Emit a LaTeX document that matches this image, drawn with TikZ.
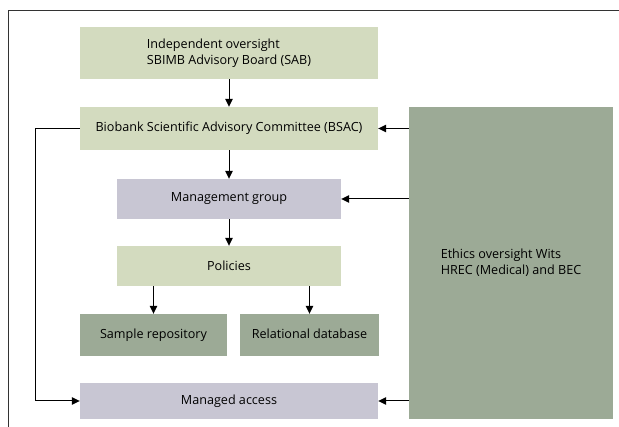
\documentclass[tikz,border=0pt]{standalone}
\usepackage{fontspec}
\setmainfont{Open Sans}
\usetikzlibrary{arrows.meta}
\definecolor{lgreen}{RGB}{211,219,191}
\definecolor{lav}{RGB}{200,198,211}
\definecolor{sage}{RGB}{156,170,150}
\tikzset{
  box/.style={fill=#1, draw=none, inner sep=0pt, align=center, font=\fontsize{12.6}{16.5}\selectfont},
  arr/.style={draw=black, line width=1pt, -{Triangle[length=8pt,width=7.5pt]}},
  frame/.style={draw=black!80, line width=0.8pt}
}
\begin{document}
\begin{tikzpicture}[x=1pt,y=-1pt]
\useasboundingbox (0,0) rectangle (619,427);
\coordinate (ftr) at (619,10);
\coordinate (ftl) at (8,10);
\coordinate (fbl) at (8,427);
\draw[frame] (ftr) -- (ftl) -- (fbl);
\node[box=lgreen, minimum width=298, minimum height=52] (sab) at (229,53)
  {\begin{tabular}{@{}l@{}}Independent oversight\\SBIMB Advisory Board (SAB)\end{tabular}};
\node[box=lgreen, minimum width=298, minimum height=43] (bsac) at (229,128.5)
  {Biobank Scientific Advisory Committee (BSAC)};
\node[box=sage, minimum width=204, minimum height=312] (eth) at (511,263)
  {\begin{tabular}{@{}l@{}}Ethics oversight Wits\\HREC (Medical) and BEC\end{tabular}};
\node[box=lav, minimum width=224, minimum height=40] (mg) at (229,199)
  {Management group};
\node[box=lgreen, minimum width=224, minimum height=40] (pol) at (229,266)
  {Policies};
\node[box=sage, minimum width=147, minimum height=42] (samp) at (153.5,335)
  {Sample repository};
\node[box=sage, minimum width=139, minimum height=42] (rel) at (309.5,335)
  {\raisebox{2pt}{Relational database}};
\node[box=lav, minimum width=298, minimum height=36] (acc) at (229,401)
  {Managed access};
\draw[arr] (sab) -- (bsac);
\draw[arr] (bsac) -- (mg);
\draw[arr] (mg) -- (pol);
\draw[arr] (pol.south -| samp.north) -- (samp.north);
\draw[arr] (pol.south -| rel.north) -- (rel.north);
\draw[arr] (eth.west |- bsac.east) -- (bsac.east);
\draw[arr] (eth.west |- mg.east) -- (mg.east);
\draw[arr] (eth.west |- acc.east) -- (acc.east);
\draw[arr] (bsac.west) -- ++(-44,0) |- (acc.west);
\end{tikzpicture}
\end{document}
